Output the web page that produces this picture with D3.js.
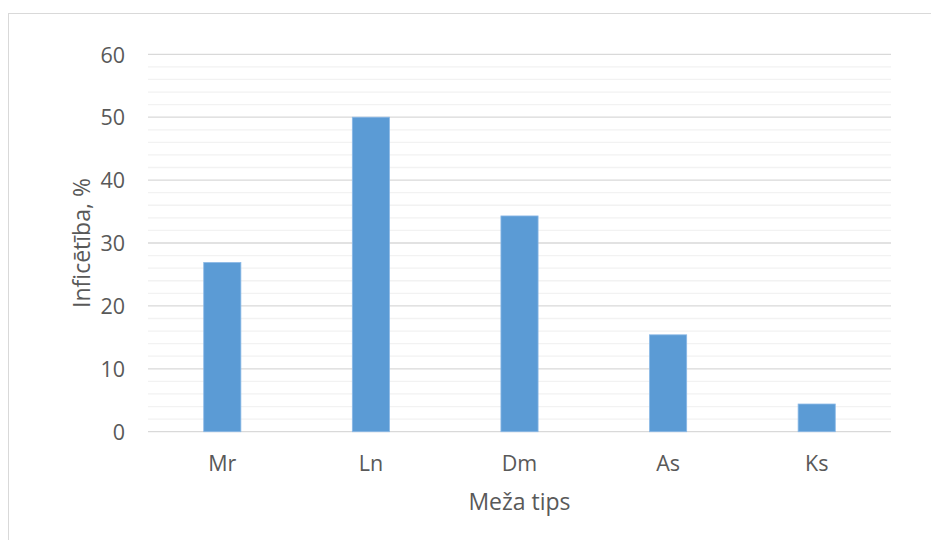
<!DOCTYPE html>
<html><head><meta charset="utf-8">
<script src="https://cdn.jsdelivr.net/npm/d3@7"></script>
<style>body{margin:0;background:#fff;} svg{display:block;}</style>
</head><body><svg id="c" width="931" height="540"></svg>
<script>
const categories = ["Mr", "Ln", "Dm", "As", "Ks"];
const values = [26.9, 50.0, 34.3, 15.4, 4.4];
const yTicks = [0, 10, 20, 30, 40, 50, 60];
const minorTicks = d3.range(0, 61, 2);
const xTitle = "Meža tips";
const yTitle = "Inficētība, %";

(function () {
const svg = d3.select("#c");
const font = "'Open Sans', sans-serif";
const textColor = "#595959";
svg.append("rect").attr("x", 8.5).attr("y", 13.5).attr("width", 1000).attr("height", 1000)
  .attr("fill", "#fff").attr("stroke", "#d9d9d9").attr("stroke-width", 1);

const pl = 148, pr = 891, pt = 54.3, pb = 431.7;
const x = d3.scaleBand().domain(categories).range([pl, pr]).paddingInner(0.75).paddingOuter(0.375);
const y = d3.scaleLinear().domain([0, 60]).range([pb, pt]);

svg.append("g").selectAll("line").data(minorTicks.filter(d => d % 10 !== 0)).join("line")
  .attr("x1", pl).attr("x2", pr).attr("y1", d => y(d)).attr("y2", d => y(d))
  .attr("stroke", "#f2f2f2").attr("stroke-width", 1.3);
svg.append("g").selectAll("line").data(yTicks).join("line")
  .attr("x1", pl).attr("x2", pr).attr("y1", d => y(d)).attr("y2", d => y(d))
  .attr("stroke", "#d9d9d9").attr("stroke-width", 1.3);

svg.append("g").selectAll("rect").data(categories).join("rect")
  .attr("x", d => x(d)).attr("width", x.bandwidth())
  .attr("y", (d, i) => y(values[i])).attr("height", (d, i) => pb - y(values[i]))
  .attr("fill", "#5b9bd5").attr("stroke", "#8ab8e6").attr("stroke-width", 0.8);

const yAxis = d3.axisLeft(y).tickValues(yTicks).tickSize(0).tickPadding(0);
const ya = svg.append("g").attr("transform", `translate(125,0)`).call(yAxis);
ya.select(".domain").remove();
ya.selectAll("text").attr("font-family", font).attr("font-size", 21.5).attr("fill", textColor).attr("dy", "0.36em");

const xAxis = d3.axisBottom(x).tickSize(0).tickPadding(0);
const xa = svg.append("g").attr("transform", `translate(0,471)`).call(xAxis);
xa.select(".domain").remove();
xa.selectAll("text").attr("font-family", font).attr("font-size", 21.5).attr("fill", textColor).attr("y", 0).attr("dy", 0);

svg.append("text").attr("x", (pl + pr) / 2).attr("y", 510).attr("text-anchor", "middle")
  .attr("font-family", font).attr("font-size", 23).attr("fill", textColor).text(xTitle);
svg.append("text").attr("transform", "translate(90,243) rotate(-90)").attr("text-anchor", "middle")
  .attr("font-family", font).attr("font-size", 23).attr("fill", textColor).text(yTitle);
})();
</script></body></html>
